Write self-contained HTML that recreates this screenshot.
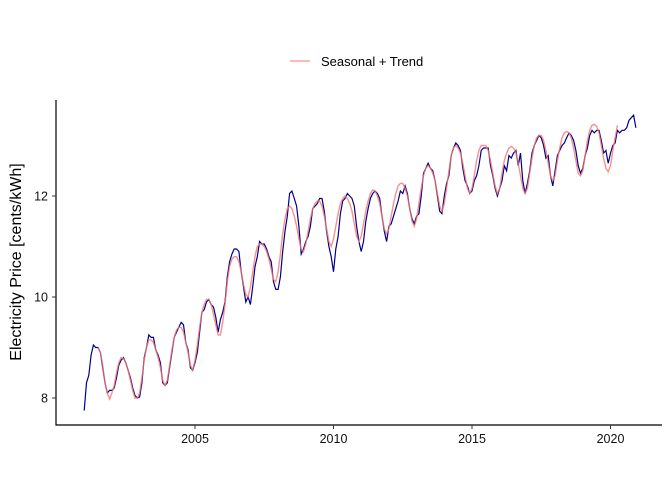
<!DOCTYPE html>
<html><head><meta charset="utf-8"><style>
html,body{margin:0;padding:0;background:#fff;}
svg text{font-family:"Liberation Sans",sans-serif;}
</style></head><body>
<svg id="chart" width="672" height="480">
<g>
<line x1="290" y1="61" x2="310" y2="61" stroke="#f8766d" stroke-opacity="0.8" stroke-width="1.3"/>
<text x="321" y="66" font-size="13" fill="#000">Seasonal + Trend</text>
</g>
<text transform="translate(21,262) rotate(-90)" text-anchor="middle" font-size="16" fill="#000">Electricity Price [cents/kWh]</text>
<g id="axes"></g>
<g id="marks"></g>
</svg>
<script>
const startYear = 2001;
const actual = [
7.75,8.3,8.45,8.85,9.05,9.0,9.0,8.9,8.6,8.3,8.1,8.15,
8.15,8.2,8.4,8.65,8.75,8.8,8.7,8.55,8.4,8.2,8.05,8.0,
8.02,8.3,8.8,9.0,9.25,9.2,9.2,8.95,8.85,8.7,8.3,8.25,
8.3,8.6,8.9,9.2,9.3,9.4,9.5,9.45,9.1,8.95,8.6,8.55,
8.7,8.9,9.3,9.7,9.75,9.9,9.95,9.85,9.8,9.6,9.3,9.55,
9.7,9.9,10.4,10.7,10.85,10.95,10.95,10.9,10.5,10.2,9.9,10.0,
9.85,10.2,10.6,10.8,11.1,11.05,11.05,10.95,10.8,10.7,10.3,10.15,
10.15,10.4,10.9,11.3,11.6,12.05,12.1,11.95,11.8,11.4,10.85,10.95,
11.1,11.2,11.4,11.75,11.8,11.85,11.95,11.95,11.7,11.3,11.0,10.8,
10.5,10.95,11.2,11.65,11.9,11.95,12.05,12.0,11.95,11.8,11.4,11.1,
10.9,11.1,11.5,11.75,11.95,12.05,12.1,12.05,11.95,11.6,11.3,11.1,
11.4,11.45,11.6,11.75,11.9,12.1,12.05,12.2,12.05,11.75,11.55,11.45,
11.6,11.65,12.0,12.45,12.55,12.65,12.55,12.5,12.3,12.0,11.7,11.65,
12.0,12.25,12.4,12.8,12.95,13.05,13.0,12.9,12.55,12.3,12.2,12.05,
12.1,12.3,12.4,12.6,12.9,12.95,12.95,12.95,12.6,12.4,12.15,12.0,
12.15,12.3,12.6,12.5,12.8,12.75,12.85,12.9,12.6,12.85,12.3,12.05,
12.25,12.5,12.85,13.0,13.1,13.2,13.15,13.0,12.75,12.8,12.4,12.2,
12.5,12.8,12.9,13.0,13.05,13.15,13.25,13.2,13.1,12.9,12.6,12.45,
12.55,12.8,12.95,13.2,13.3,13.25,13.3,13.3,13.1,12.85,12.9,12.65,
12.85,13.0,13.05,13.3,13.25,13.3,13.3,13.35,13.5,13.55,13.6,13.35
];
const seasonalTrend = [
null,null,null,null,null,null,9.0,8.9,8.65,8.3,8.1,7.98,
8.1,8.25,8.5,8.7,8.8,8.78,8.7,8.55,8.35,8.15,8.0,8.0,
8.1,8.4,8.75,9.0,9.15,9.15,9.1,8.95,8.8,8.6,8.35,8.25,
8.35,8.65,8.95,9.2,9.35,9.4,9.4,9.3,9.1,8.9,8.65,8.55,
8.75,9.05,9.4,9.7,9.85,9.95,9.95,9.85,9.65,9.45,9.25,9.25,
9.5,9.85,10.3,10.6,10.75,10.8,10.8,10.7,10.5,10.25,10.05,10.0,
10.2,10.5,10.8,11.0,11.05,11.05,11.0,10.9,10.75,10.55,10.35,10.3,
10.5,10.85,11.25,11.55,11.75,11.8,11.75,11.6,11.4,11.15,10.95,10.9,
11.05,11.3,11.55,11.75,11.85,11.9,11.9,11.8,11.6,11.35,11.1,11.0,
11.15,11.4,11.65,11.85,11.95,12.0,11.95,11.85,11.7,11.45,11.2,11.1,
11.2,11.45,11.7,11.9,12.05,12.12,12.1,12.0,11.85,11.6,11.35,11.25,
11.35,11.6,11.85,12.05,12.2,12.25,12.25,12.15,12.0,11.75,11.5,11.4,
11.55,11.85,12.15,12.4,12.55,12.6,12.55,12.45,12.3,12.05,11.8,11.7,
11.85,12.15,12.5,12.8,12.95,13.0,12.95,12.85,12.65,12.4,12.15,12.05,
12.15,12.4,12.7,12.9,13.0,13.0,13.0,12.9,12.7,12.45,12.2,12.05,
12.15,12.45,12.7,12.85,12.95,12.98,12.95,12.85,12.65,12.4,12.15,12.05,
12.15,12.45,12.75,13.0,13.15,13.2,13.2,13.1,12.9,12.65,12.4,12.3,
12.4,12.7,12.95,13.15,13.25,13.28,13.25,13.15,12.95,12.7,12.45,12.4,
12.5,12.8,13.1,13.3,13.4,13.42,13.38,13.25,13.0,12.75,12.55,12.48,
12.6,12.9,13.15,13.4
];
const yTicks = [8,10,12];
const xTicks = [2005,2010,2015,2020];

const NS='http://www.w3.org/2000/svg';
const xScale = t => 195 + (t-2005)*27.7;
const yScale = v => 398 - (v-8)*50.5;
function mk(tag, attrs, parent){const e=document.createElementNS(NS,tag);for(const k in attrs)e.setAttribute(k,attrs[k]);parent.appendChild(e);return e;}
const axes=document.getElementById('axes'), marks=document.getElementById('marks');
const ya=mk('line',{x1:56,y1:100,x2:56,y2:425.5,stroke:'#000','stroke-width':1.2},axes);


const xa=mk('line',{x1:55.5,y1:425,x2:662,y2:425,stroke:'#000','stroke-width':1.2},axes);


yTicks.forEach(v=>{
  const y=yScale(v);
  const tk=mk('line',{x1:52,y1:y,x2:56,y2:y,stroke:'#333'},axes);
  
  
  const tx=mk('text',{x:48,y:y+4.5,'text-anchor':'end','font-size':12.5,fill:'#111'},axes);
  tx.textContent=v;
  
  
});
xTicks.forEach(v=>{
  const x=xScale(v);
  const tk=mk('line',{x1:x,y1:425,x2:x,y2:429,stroke:'#333'},axes);
  
  
  const tx=mk('text',{x:x,y:443,'text-anchor':'middle','font-size':12.5,fill:'#111'},axes);
  tx.textContent=v;
  
  
});
function pathFor(arr){
  let d='',pen=false;
  arr.forEach((v,i)=>{
    if(v==null){pen=false;return;}
    const x=xScale(startYear+i/12), y=yScale(v);
    d+=(pen?'L':'M')+x.toFixed(1)+','+y.toFixed(1);pen=true;
  });
  return d;
}
const a=mk('path',{d:pathFor(actual),fill:'none',stroke:'#00008b','stroke-width':1.2},marks);


const s=mk('path',{d:pathFor(seasonalTrend),fill:'none',stroke:'#f8766d','stroke-opacity':0.8,'stroke-width':1.4},marks);


</script>
</body></html>
